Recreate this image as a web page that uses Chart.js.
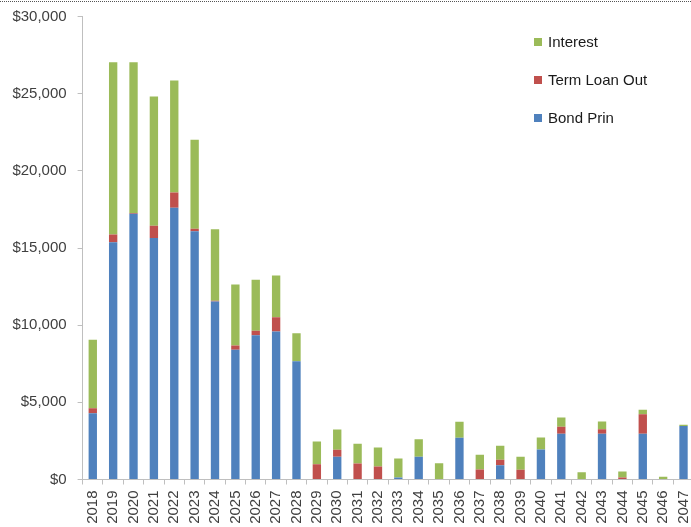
<!DOCTYPE html>
<html>
<head>
<meta charset="utf-8">
<script src="https://cdn.jsdelivr.net/npm/chart.js@4/dist/chart.umd.min.js"></script>
<style>
  html, body { margin: 0; padding: 0; overflow: hidden; background: #fff; width: 691px; height: 527px; }
  canvas { display: block; }
</style>
</head>
<body>
<canvas id="c" width="700" height="527"></canvas>
<script>
const years = ['2018','2019','2020','2021','2022','2023','2024','2025','2026','2027','2028','2029','2030','2031','2032','2033','2034','2035','2036','2037','2038','2039','2040','2041','2042','2043','2044','2045','2046','2047'];
const bondPrin = [4300, 15380, 17220, 15640, 17610, 16090, 11530, 8400, 9350, 9590, 7670, 0, 1470, 0, 0, 130, 1470, 0, 2700, 0, 930, 0, 1940, 2960, 0, 2960, 0, 2960, 0, 3460];
const termLoanOut = [320, 500, 40, 800, 990, 155, 50, 280, 285, 930, 0, 990, 450, 1040, 840, 0, 0, 0, 0, 650, 345, 630, 0, 455, 0, 300, 130, 1275, 0, 0];
const interest = [4430, 11160, 9770, 8380, 7260, 5770, 4640, 3950, 3300, 2700, 1810, 1470, 1320, 1280, 1230, 1230, 1140, 1060, 1040, 950, 910, 840, 780, 605, 475, 495, 390, 285, 175, 85];
const yTicks = [0, 5000, 10000, 15000, 20000, 25000, 30000];

const FONT = "'Liberation Sans', Arial, sans-serif";
const TEXT = '#404040';
const AXIS = '#bfbfbf';

const legendPlugin = {
  id: 'sideLegend',
  afterDraw(chart) {
    const ctx = chart.ctx;
    ctx.save();
    // top dotted border
    ctx.strokeStyle = '#555';
    ctx.lineWidth = 1;
    ctx.setLineDash([1, 1]);
    ctx.beginPath();
    ctx.moveTo(0, 1.5);
    ctx.lineTo(chart.width, 1.5);
    ctx.stroke();
    ctx.setLineDash([]);
    const ds = chart.data.datasets.slice().reverse();
    const ys = [42, 80, 118];
    ctx.font = '15px ' + FONT;
    ctx.textBaseline = 'middle';
    ctx.textAlign = 'left';
    ds.forEach((d, i) => {
      ctx.fillStyle = d.backgroundColor;
      ctx.fillRect(534, ys[i] - 4, 8, 8);
      ctx.fillStyle = '#1a1a1a';
      ctx.fillText(d.label, 548, ys[i] + 0.5);
    });
    ctx.restore();
  }
};

new Chart(document.getElementById('c'), {
  type: 'bar',
  data: {
    labels: years,
    datasets: [
      { label: 'Bond Prin', data: bondPrin, backgroundColor: '#4F81BD' },
      { label: 'Term Loan Out', data: termLoanOut, backgroundColor: '#C0504D' },
      { label: 'Interest', data: interest, backgroundColor: '#9BBB59' }
    ]
  },
  options: {
    responsive: false,
    animation: false,
    devicePixelRatio: 1,
    layout: { padding: { top: 16.5, right: 6.3, left: 0, bottom: 0 } },
    datasets: { bar: { categoryPercentage: 1, barPercentage: 0.41, borderWidth: 0 } },
    plugins: { legend: { display: false }, tooltip: { enabled: false } },
    scales: {
      x: {
        stacked: true,
        afterFit(s) { s.height = 47.5; s.paddingLeft = 0; s.paddingRight = 0; },
        border: { display: true, color: AXIS, width: 1 },
        grid: { display: true, offset: true, drawOnChartArea: false, drawTicks: true, tickLength: 5, color: AXIS },
        ticks: { autoSkip: false, maxRotation: 90, minRotation: 90, padding: 6, color: TEXT, font: { family: FONT, size: 15 } }
      },
      y: {
        stacked: true,
        min: 0, max: 30000,
        afterFit(s) { s.width = 82.6; s.paddingTop = 0; s.paddingBottom = 0; },
        afterBuildTicks(s) { s.ticks = yTicks.map(v => ({ value: v })); },
        border: { display: true, color: AXIS, width: 1 },
        grid: { display: true, drawOnChartArea: false, drawTicks: true, tickLength: 5, color: AXIS },
        ticks: {
          padding: 11, color: TEXT, font: { family: FONT, size: 15 },
          callback: v => '$' + Number(v).toLocaleString('en-US')
        }
      }
    }
  },
  plugins: [legendPlugin]
});
</script>
</body>
</html>
